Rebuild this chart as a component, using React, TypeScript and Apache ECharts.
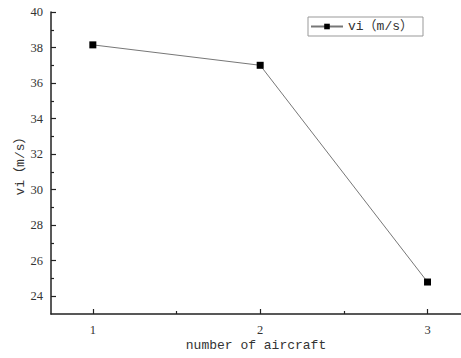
import React, { useEffect, useRef } from "react";
import * as echarts from "echarts";

const categories = [1, 2, 3];
const speeds = [38.15, 37.0, 24.8];
const xMajorTicks = [1, 2, 3];
const xMinorTicks = [1.5, 2.5];
const yMajorTicks = [24, 26, 28, 30, 32, 34, 36, 38, 40];
const yMinorTicks = [25, 27, 29, 31, 33, 35, 37, 39];
const seriesName = "vi（m/s）";
const xName = "number of aircraft";
const yName = "vi（m/s）";

export default function App() {
  const ref = useRef<HTMLDivElement>(null);
  useEffect(() => {
    if (!ref.current) return;
    const chart = echarts.init(ref.current, null, { renderer: "svg" });
    const axisColor = "#222";
    const labelFont = { fontFamily: "'Liberation Serif', 'DejaVu Serif', serif", fontSize: 12.5, color: "#333" };
    const nameFont = { fontFamily: "'Liberation Mono', 'Noto Sans CJK SC', monospace", fontSize: 13, color: "#333" };
    chart.setOption({
      animation: false,
      backgroundColor: "#fff",
      grid: { left: 51, top: 12, bottom: 44, right: 0, containLabel: false },
      legend: {
        data: [seriesName],
        left: 308,
        top: 17,
        orient: "horizontal",
        borderColor: "#999",
        borderWidth: 1,
        padding: [3, 10, 3, 2],
        itemWidth: 32,
        itemHeight: 7,
        itemGap: 8,
        textStyle: { ...nameFont, color: "#333" },
      },
      xAxis: [
        {
          type: "value",
          min: 0.75,
          max: 3.2,
          name: xName,
          nameLocation: "middle",
          nameGap: 25,
          nameMoveOverlap: false,
          nameTextStyle: nameFont,
          axisLine: { show: true, onZero: false, lineStyle: { color: axisColor, width: 1.5 } },
          axisTick: { show: true, inside: true, length: 5, customValues: xMajorTicks, lineStyle: { color: axisColor, width: 1.2 } },
          axisLabel: { show: true, margin: 9, customValues: xMajorTicks, ...labelFont },
          splitLine: { show: false },
        },
        {
          type: "value",
          min: 0.75,
          max: 3.2,
          position: "bottom",
          axisLine: { show: false },
          axisTick: { show: true, inside: true, length: 3, customValues: xMinorTicks, lineStyle: { color: axisColor, width: 1.2 } },
          axisLabel: { show: false },
          splitLine: { show: false },
        },
      ],
      yAxis: [
        {
          type: "value",
          min: 23,
          max: 40,
          name: yName,
          nameLocation: "middle",
          nameGap: 24,
          nameMoveOverlap: false,
          nameTextStyle: nameFont,
          axisLine: { show: true, onZero: false, lineStyle: { color: axisColor, width: 1.5 } },
          axisTick: { show: true, inside: true, length: 5, customValues: yMajorTicks, lineStyle: { color: axisColor, width: 1.2 } },
          axisLabel: { show: true, margin: 8, customValues: yMajorTicks, ...labelFont },
          splitLine: { show: false },
        },
        {
          type: "value",
          min: 23,
          max: 40,
          position: "left",
          axisLine: { show: false },
          axisTick: { show: true, inside: true, length: 3, customValues: yMinorTicks, lineStyle: { color: axisColor, width: 1.2 } },
          axisLabel: { show: false },
          splitLine: { show: false },
        },
      ],
      series: [
        {
          name: seriesName,
          type: "line",
          xAxisIndex: 0,
          yAxisIndex: 0,
          data: categories.map((c, i) => [c, speeds[i]]),
          symbol: "rect",
          symbolSize: 7,
          lineStyle: { color: "#777", width: 1 },
          itemStyle: { color: "#000" },
        },
      ],
    });
    return () => chart.dispose();
  }, []);
  return <div ref={ref} style={{ width: 461, height: 358, position: "fixed", left: 0, top: 0 }} />;
}
